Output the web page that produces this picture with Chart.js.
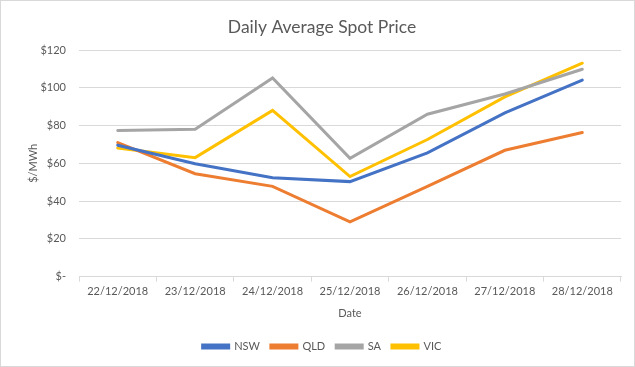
<!DOCTYPE html>
<html>
<head>
<meta charset="utf-8">
<script src="https://cdn.jsdelivr.net/npm/chart.js@4/dist/chart.umd.min.js"></script>
<style>
  html, body { margin: 0; padding: 0; background: #fff; }
  #wrap { position: relative; width: 633px; height: 365px; border: 1px solid #d9d9d9; }
</style>
</head>
<body>
<div id="wrap"><canvas id="spotChart"></canvas></div>
<script>
// данные графика
const dates = ['22/12/2018', '23/12/2018', '24/12/2018', '25/12/2018', '26/12/2018', '27/12/2018', '28/12/2018'];
const nsw = [69.6, 59.8, 52.4, 50.3, 65.5, 86.7, 104.1];
const qld = [71.0, 54.5, 47.8, 29.0, 47.8, 66.9, 76.3];
const sa  = [77.4, 78.0, 105.2, 62.6, 86.0, 96.7, 109.8];
const vic = [68.1, 63.0, 88.0, 53.0, 72.6, 95.2, 113.0];
const yTicks = [0, 20, 40, 60, 80, 100, 120];

const textColor = '#595959';
const fontFamily = 'Lato, "Open Sans", sans-serif';

Chart.defaults.font.family = fontFamily;
Chart.defaults.color = textColor;

function series(label, data, color) {
  return {
    label: label,
    data: data,
    borderColor: color,
    backgroundColor: color,
    borderWidth: 3,
    pointRadius: 0,
    tension: 0,
    borderCapStyle: 'round'
  };
}

new Chart(document.getElementById('spotChart'), {
  type: 'line',
  data: {
    labels: dates,
    datasets: [
      series('NSW', nsw, '#4472C4'),
      series('QLD', qld, '#ED7D31'),
      series('SA', sa, '#A5A5A5'),
      series('VIC', vic, '#FFC000')
    ]
  },
  options: {
    responsive: true,
    maintainAspectRatio: false,
    animation: false,
    layout: { padding: { left: 22, right: 13, top: 0, bottom: 4 } },
    plugins: {
      title: {
        display: true,
        text: 'Daily Average Spot Price',
        color: textColor,
        font: { size: 17.5, weight: 'normal' },
        padding: { top: 16, bottom: 12 }
      },
      legend: {
        position: 'bottom',
        labels: {
          boxWidth: 26,
          boxHeight: 3,
          padding: 11,
          color: textColor,
          font: { size: 11 }
        }
      },
      tooltip: { enabled: false }
    },
    scales: {
      x: {
        offset: true,
        grid: {
          offset: true,
          drawOnChartArea: false,
          drawTicks: true,
          tickLength: 5,
          color: '#d9d9d9'
        },
        border: { display: true, color: '#d9d9d9' },
        ticks: { color: textColor, font: { size: 11 }, maxRotation: 0, padding: 3 },
        title: { display: true, text: 'Date', color: textColor, font: { size: 11 }, padding: { top: 6, bottom: 10 } }
      },
      y: {
        min: 0,
        max: 120,
        afterBuildTicks: (axis) => { axis.ticks = yTicks.map(v => ({ value: v })); },
        afterFit: (axis) => { axis.width = 56; },
        grid: { color: '#d9d9d9', drawTicks: false },
        border: { display: false },
        ticks: {
          color: textColor,
          font: { size: 11 },
          padding: 13,
          callback: (v) => v === 0 ? '$-' : '$' + v
        },
        title: { display: true, text: '$/MWh', color: textColor, font: { size: 11 }, padding: { bottom: 2 } }
      }
    }
  }
});
</script>
</body>
</html>
